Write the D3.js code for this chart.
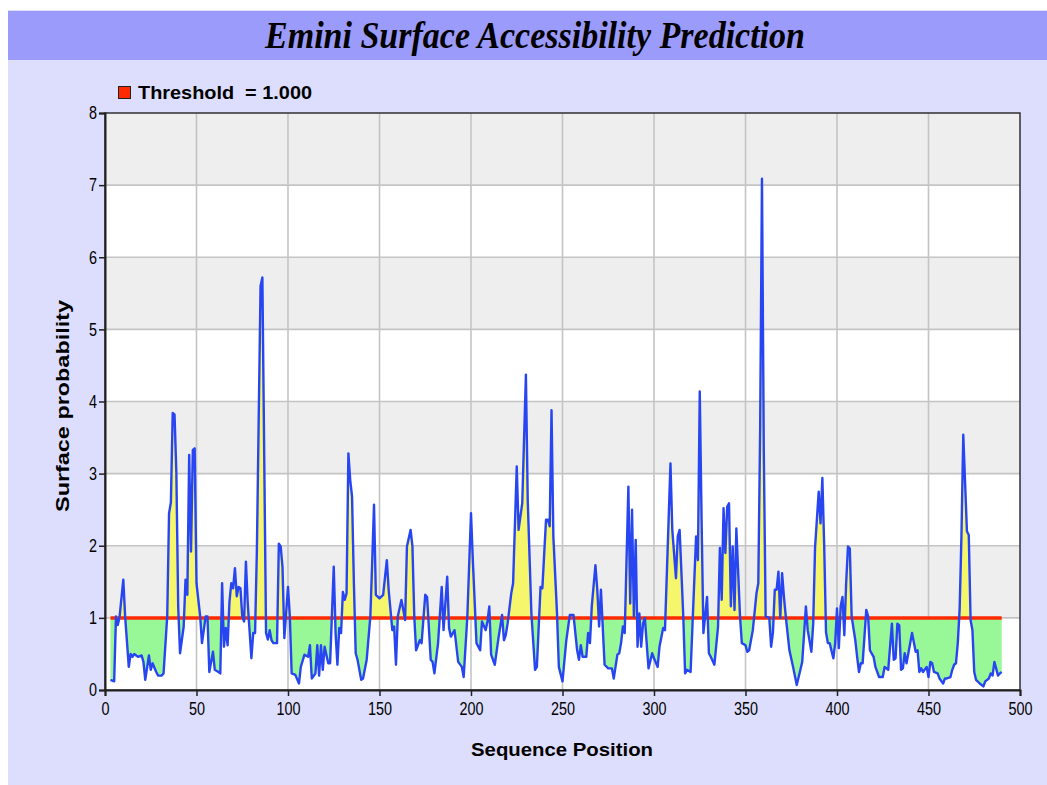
<!DOCTYPE html>
<html>
<head>
<meta charset="utf-8">
<script src="https://cdn.jsdelivr.net/npm/d3@7"></script>
<style>
  html, body { margin: 0; padding: 0; background: #ffffff; }
  svg { display: block; }
  text { font-family: "Liberation Sans", Arial, sans-serif; fill: #000; }
</style>
</head>
<body>
<svg id="chart" width="1047" height="785"></svg>
<script>
// Emini surface accessibility profile: residue position and predicted score
const positions = [
  3, 5, 6, 7, 8, 10, 11, 13, 14, 15, 16, 18, 20, 21, 22, 24, 25, 26, 28, 29,
  31, 32, 34, 35, 36, 37, 38, 39, 40, 41, 43, 44, 45, 46, 47, 48, 49, 50, 52, 53,
  55, 56, 57, 59, 60, 62, 63, 64, 65, 66, 67, 68, 69, 70, 71, 72, 73, 74, 75, 76,
  77, 78, 80, 81, 82, 83, 85, 86, 88, 89, 90, 91, 92, 94, 95, 96, 97, 98, 100, 101,
  102, 104, 106, 107, 109, 111, 112, 113, 115, 116, 117, 118, 119, 120, 122, 123, 125, 126, 127, 128,
  129, 130, 131, 132, 133, 134, 135, 136, 137, 138, 140, 141, 143, 145, 146, 147, 148, 150, 152, 154,
  155, 157, 158, 159, 160, 162, 164, 165, 167, 168, 169, 170, 172, 173, 175, 176, 178, 179, 180, 182,
  184, 185, 187, 188, 189, 191, 193, 195, 196, 198, 200, 201, 203, 205, 206, 208, 209, 210, 211, 213,
  215, 217, 218, 219, 220, 222, 223, 225, 226, 228, 230, 231, 233, 235, 236, 238, 239, 241, 242, 243,
  244, 245, 247, 248, 250, 252, 254, 256, 258, 259, 260, 261, 263, 264, 265, 266, 268, 269, 270, 271,
  273, 275, 277, 278, 280, 281, 282, 283, 284, 286, 287, 288, 289, 290, 291, 292, 293, 294, 295, 297,
  299, 300, 302, 303, 305, 306, 309, 310, 312, 313, 314, 316, 317, 318, 320, 321, 323, 324, 325, 326,
  327, 329, 330, 331, 333, 335, 336, 337, 338, 339, 340, 341, 342, 343, 344, 345, 347, 348, 350, 351,
  352, 354, 356, 357, 358, 359, 360, 361, 363, 364, 365, 366, 367, 368, 369, 370, 371, 372, 374, 376,
  378, 380, 381, 383, 384, 386, 387, 388, 390, 391, 392, 393, 394, 395, 396, 398, 399, 400, 401, 402,
  403, 404, 405, 406, 407, 408, 410, 411, 412, 413, 414, 416, 417, 418, 420, 421, 423, 425, 426, 428,
  430, 431, 432, 433, 434, 435, 436, 437, 438, 440, 441, 443, 444, 445, 446, 447, 449, 450, 451, 452,
  453, 455, 456, 458, 459, 460, 462, 463, 464, 465, 466, 467, 468, 469, 470, 471, 472, 473, 474, 475,
  476, 478, 480, 481, 483, 484, 485, 486, 488, 489, 490
];
const scores = [
  0.14, 0.12, 1.02, 0.90, 1.02, 1.53, 1.02, 0.32, 0.50, 0.46, 0.50, 0.46, 0.48, 0.39, 0.14, 0.48, 0.28, 0.37, 0.25, 0.20,
  0.20, 0.23, 1.02, 2.45, 2.60, 3.84, 3.82, 3.00, 1.16, 0.51, 0.88, 1.53, 1.32, 3.26, 1.92, 3.33, 3.35, 1.48, 1.02, 0.65,
  1.02, 1.02, 0.25, 0.53, 0.28, 0.25, 0.23, 1.48, 0.60, 0.86, 0.62, 1.22, 1.48, 1.41, 1.69, 1.30, 1.43, 1.41, 1.02, 0.95,
  1.78, 1.20, 0.44, 0.79, 0.79, 1.94, 5.60, 5.72, 0.79, 0.70, 0.83, 0.69, 0.65, 0.65, 2.03, 1.99, 1.70, 0.72, 1.43, 1.02,
  0.23, 0.21, 0.09, 0.32, 0.49, 0.46, 0.62, 0.16, 0.23, 0.62, 0.20, 0.62, 0.28, 0.60, 0.37, 0.37, 1.71, 0.79, 0.35, 0.86,
  0.79, 1.36, 1.25, 1.34, 3.28, 2.91, 2.68, 1.48, 0.51, 0.42, 0.14, 0.16, 0.42, 1.02, 1.76, 2.57, 1.32, 1.27, 1.32, 1.80,
  1.39, 0.83, 0.88, 0.35, 1.02, 1.25, 0.97, 1.99, 2.22, 1.99, 1.02, 0.55, 0.69, 0.65, 1.32, 1.29, 0.42, 0.39, 0.23, 0.65,
  1.43, 0.83, 1.57, 0.86, 0.74, 0.83, 0.39, 0.32, 0.18, 1.02, 2.45, 1.80, 0.65, 0.55, 0.95, 0.83, 0.95, 1.16, 0.49, 0.35,
  0.72, 1.04, 0.69, 0.76, 0.92, 1.34, 1.48, 3.10, 2.22, 2.59, 4.37, 2.63, 1.06, 0.28, 0.32, 1.43, 1.41, 2.36, 2.36, 2.27,
  3.88, 2.13, 1.06, 0.32, 0.12, 0.67, 1.04, 1.04, 0.55, 0.42, 0.62, 0.46, 0.46, 0.79, 0.65, 1.16, 1.73, 1.39, 0.88, 1.39,
  0.35, 0.30, 0.30, 0.16, 0.49, 0.51, 0.65, 0.88, 0.79, 2.82, 1.20, 2.50, 1.02, 2.08, 0.60, 1.06, 0.60, 0.92, 1.00, 0.30,
  0.51, 0.44, 0.32, 0.60, 0.86, 0.83, 3.14, 2.22, 1.55, 2.13, 2.22, 1.02, 0.23, 0.28, 0.25, 0.88, 2.13, 1.80, 4.14, 2.36,
  0.79, 1.29, 0.51, 0.46, 0.35, 0.88, 1.97, 1.25, 2.52, 1.90, 2.54, 2.59, 1.16, 1.99, 1.11, 2.24, 1.02, 0.65, 0.62, 0.53,
  0.55, 0.83, 1.34, 1.48, 3.60, 7.09, 3.30, 1.02, 1.00, 0.60, 0.80, 1.39, 1.39, 1.64, 1.00, 1.62, 1.29, 1.02, 0.55, 0.32,
  0.07, 0.28, 0.39, 1.16, 0.83, 0.53, 0.92, 1.97, 2.75, 2.31, 2.94, 2.00, 0.80, 0.65, 0.65, 0.44, 0.65, 1.13, 0.58, 1.16,
  1.29, 0.76, 1.48, 1.99, 1.96, 1.02, 0.69, 0.46, 0.25, 0.37, 0.37, 1.11, 1.02, 0.55, 0.46, 0.32, 0.18, 0.18, 0.32, 0.28,
  0.92, 0.42, 0.44, 0.92, 0.90, 0.28, 0.30, 0.51, 0.37, 0.65, 0.79, 0.53, 0.55, 0.25, 0.30, 0.25, 0.32, 0.18, 0.39, 0.37,
  0.25, 0.23, 0.16, 0.09, 0.16, 0.16, 0.18, 0.28, 0.35, 0.37, 0.65, 1.11, 2.13, 3.54, 2.87, 2.20, 2.15, 0.97, 0.83, 0.25,
  0.14, 0.09, 0.05, 0.12, 0.16, 0.23, 0.20, 0.39, 0.20, 0.23, 0.25
];
const threshold = 1.0;
const xTicks = [0, 50, 100, 150, 200, 250, 300, 350, 400, 450, 500];
const yTicks = [0, 1, 2, 3, 4, 5, 6, 7, 8];

const titleText = "Emini Surface Accessibility Prediction";
const legendText = "Threshold  = 1.000";
const xTitle = "Sequence Position";
const yTitle = "Surface probability";

const svg = d3.select("#chart");
const W = 1047, H = 785;
const plot = { left: 105, right: 1020, top: 113, bottom: 690 };

// Panel background and title banner
svg.append("rect").attr("x", 8).attr("y", 10).attr("width", W - 8).attr("height", H - 10)
  .attr("fill", "#ddddfd");
svg.append("rect").attr("x", 8).attr("y", 11).attr("width", W - 8).attr("height", 49)
  .attr("fill", "#9b9bfb");
svg.append("text")
  .attr("x", 535).attr("y", 48)
  .attr("text-anchor", "middle")
  .attr("textLength", 540).attr("lengthAdjust", "spacingAndGlyphs")
  .style("font-family", "'Liberation Serif', 'Times New Roman', serif")
  .style("font-style", "italic").style("font-weight", "bold")
  .style("font-size", "37px")
  .text(titleText);

const x = d3.scaleLinear().domain([0, 500]).range([plot.left, plot.right]);
const y = d3.scaleLinear().domain([0, 8]).range([plot.bottom, plot.top]);

// Alternating horizontal bands
const bands = d3.range(0, 8).map(i => ({ lo: i, hi: i + 1 }));
svg.append("g").selectAll("rect").data(bands).join("rect")
  .attr("x", plot.left).attr("width", plot.right - plot.left)
  .attr("y", d => y(d.hi)).attr("height", d => y(d.lo) - y(d.hi))
  .attr("fill", d => d.lo % 2 === 0 ? "#ffffff" : "#eeeeee");

// Grid lines
const grid = svg.append("g").attr("stroke", "#c4c4c4").attr("stroke-width", 1.6);
grid.selectAll("line.v").data(xTicks.slice(1, -1)).join("line")
  .attr("x1", d => x(d)).attr("x2", d => x(d))
  .attr("y1", plot.top).attr("y2", plot.bottom);
grid.selectAll("line.h").data(yTicks.slice(1, -1)).join("line").attr("class", "h")
  .attr("x1", plot.left).attr("x2", plot.right)
  .attr("y1", d => y(d)).attr("y2", d => y(d));

// Filled regions between the profile and the threshold
const series = positions.map((p, i) => ({ p, v: scores[i] }));
const area = d3.area().x(d => x(d.p)).y0(y(threshold)).y1(d => y(d.v));
const defs = svg.append("defs");
defs.append("clipPath").attr("id", "above").append("rect")
  .attr("x", plot.left).attr("y", plot.top)
  .attr("width", plot.right - plot.left).attr("height", y(threshold) - plot.top);
defs.append("clipPath").attr("id", "below").append("rect")
  .attr("x", plot.left).attr("y", y(threshold))
  .attr("width", plot.right - plot.left).attr("height", plot.bottom - y(threshold));
svg.append("path").datum(series).attr("d", area)
  .attr("fill", "#f6f66c").attr("clip-path", "url(#above)");
svg.append("path").datum(series).attr("d", area)
  .attr("fill", "#98f898").attr("clip-path", "url(#below)");

// Threshold line
const pExtent = d3.extent(positions);
svg.append("line")
  .attr("x1", x(pExtent[0])).attr("x2", x(pExtent[1]))
  .attr("y1", y(threshold)).attr("y2", y(threshold))
  .attr("stroke", "#ff2a00").attr("stroke-width", 3.5);

// Profile line
const line = d3.line().x(d => x(d.p)).y(d => y(d.v));
svg.append("path").datum(series).attr("d", line)
  .attr("fill", "none").attr("stroke", "#2746f2").attr("stroke-width", 2.4)
  .attr("stroke-linejoin", "round");

// Plot frame
svg.append("rect")
  .attr("x", plot.left).attr("y", plot.top)
  .attr("width", plot.right - plot.left).attr("height", plot.bottom - plot.top)
  .attr("fill", "none").attr("stroke", "#303030").attr("stroke-width", 1.5);

// Axes
const xAxis = d3.axisBottom(x).tickValues(xTicks).tickSize(6).tickPadding(6);
const yAxis = d3.axisLeft(y).tickValues(yTicks).tickSize(6).tickPadding(4);
const gx = svg.append("g").attr("transform", `translate(0,${plot.bottom})`).call(xAxis);
const gy = svg.append("g").attr("transform", `translate(${plot.left},0)`).call(yAxis);
[gx, gy].forEach(g => {
  g.select(".domain").attr("stroke", "#202020").attr("stroke-width", 2);
  g.selectAll(".tick line").attr("stroke", "#202020").attr("stroke-width", 1.5);
  g.selectAll(".tick text")
    .style("font-size", "18px").attr("fill", "#000")
    .attr("transform", "scale(0.8,1)");
});

// Axis titles
svg.append("text")
  .attr("x", 562).attr("y", 756).attr("text-anchor", "middle")
  .attr("textLength", 182).attr("lengthAdjust", "spacingAndGlyphs")
  .style("font-weight", "bold").style("font-size", "19px")
  .text(xTitle);
svg.append("text")
  .attr("transform", "translate(69,406) rotate(-90)").attr("text-anchor", "middle")
  .attr("textLength", 212).attr("lengthAdjust", "spacingAndGlyphs")
  .style("font-weight", "bold").style("font-size", "19px")
  .text(yTitle);

// Legend
svg.append("rect").attr("x", 118.5).attr("y", 86.5).attr("width", 12).attr("height", 12)
  .attr("fill", "#ff2a00").attr("stroke", "#202020").attr("stroke-width", 1);
svg.append("text")
  .attr("x", 138).attr("y", 99)
  .attr("textLength", 174).attr("lengthAdjust", "spacingAndGlyphs")
  .style("white-space", "pre")
  .style("font-weight", "bold").style("font-size", "18px")
  .text(legendText);
</script>
</body>
</html>
